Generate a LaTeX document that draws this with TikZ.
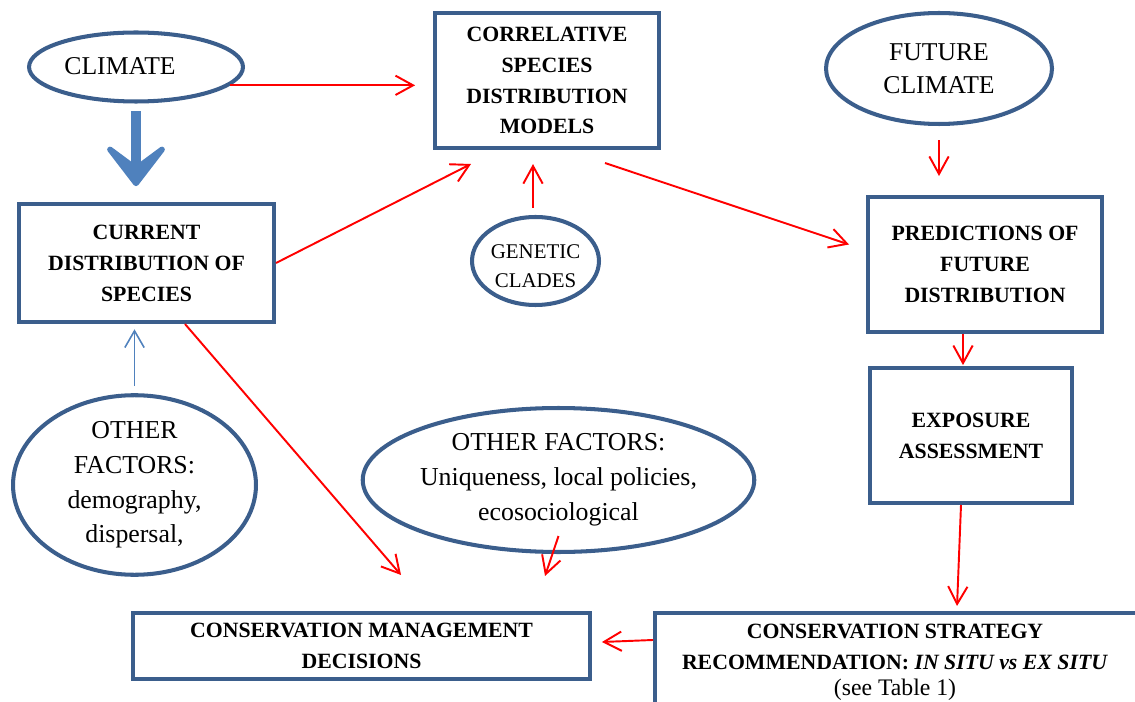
\documentclass[tikz,border=0pt]{standalone}
\usepackage{fontspec}
\setmainfont{Liberation Serif}
\usetikzlibrary{shapes.geometric, arrows.meta, positioning, calc}

\definecolor{boxblue}{HTML}{3B5E8C}
\definecolor{arrowblue}{HTML}{4F81BD}
\definecolor{linkred}{HTML}{FF0000}

\newcommand{\boxfont}{\fontsize{12.4}{17.6}\selectfont\bfseries}
\newcommand{\ovalfont}{\fontsize{14.7}{19.8}\selectfont}

\begin{document}
\begin{tikzpicture}[x=0.02cm, y=-0.02cm,
  box/.style={rectangle, draw=boxblue, line width=2.3pt, fill=white, align=center, inner sep=0pt, font=\boxfont},
  oval/.style={ellipse, draw=boxblue, line width=2.3pt, align=center, inner sep=0pt, font=\ovalfont},
  redarrow/.style={draw=linkred, line width=1.1pt, -{Straight Barb[length=10pt, width=11pt]}},
  bluearrow/.style={draw=arrowblue, line width=0.9pt, -{Straight Barb[length=9.5pt, width=11pt]}},
  bigarrow/.style={draw=arrowblue, line width=5.7pt, -{Stealth[length=30pt, width=46pt, inset=17pt, round]}}]

    \useasboundingbox (0,0) rectangle (1135,702);
    \clip (0,0) rectangle (1135,702);

    %creates the ovals
    \node (clim) [oval, minimum width=4.28cm, minimum height=1.38cm] at (136,67) {};%draws climate oval
    \node (climtext) [font=\fontsize{14.6}{18.7}\selectfont] at ($(clim.center)+(-16,-1)$) {CLIMATE};%labels climate oval
    \node (fut) [oval, font=\fontsize{14.6}{18.7}\selectfont, minimum width=4.52cm, minimum height=2.22cm] at (939,68.5) {FUTURE\\CLIMATE};%draws future climate
    \node (gen) [oval, font=\fontsize{11.9}{16.4}\selectfont, minimum width=2.54cm, minimum height=1.76cm, text depth=0pt] at (535.5,261) {\rule{0pt}{14pt}GENETIC\\CLADES};%draws genetic clades
    \node (oth1) [oval, minimum width=4.86cm, minimum height=3.32cm] at (134.5,485) {OTHER\\FACTORS:\\demography,\\dispersal,};%draws left other factors
    \node (oth2) [oval, minimum width=7.74cm, minimum height=2.88cm] at (558.5,480) {OTHER FACTORS:\\Uniqueness, local policies,\\ecosociological};%draws middle other factors

    %creates the boxes
    \node (cur) [box, minimum width=5.1cm, minimum height=2.36cm] at (146.5,263) {CURRENT\\DISTRIBUTION OF\\SPECIES};%draws current distribution
    \node (corr) [box, minimum width=4.48cm, minimum height=2.7cm] at (547,80.5) {CORRELATIVE\\SPECIES\\DISTRIBUTION\\MODELS};%draws models
    \node (pred) [box, minimum width=4.68cm, minimum height=2.7cm] at (985,264.5) {PREDICTIONS OF\\FUTURE\\DISTRIBUTION};%draws predictions
    \node (expo) [box, minimum width=4.04cm, minimum height=2.7cm] at (971,435.5) {EXPOSURE\\ASSESSMENT};%draws exposure
    \node (mgmt) [box, minimum width=9.14cm, minimum height=1.32cm] at (361.5,646) {CONSERVATION MANAGEMENT\\DECISIONS};%draws decisions
    \node (strat) [box, minimum width=9.64cm, minimum height=2.16cm] at (896,667) {};%draws strategy box
    \node (strattext) [font=\boxfont, align=center, anchor=north, inner sep=0pt] at (895,624) {CONSERVATION STRATEGY\\RECOMMENDATION: \textit{IN SITU vs EX SITU}\\[-3pt]{\fontsize{13.5}{15}\selectfont\mdseries (see Table 1)}};%labels strategy box

    %draws blue arrows
    \draw [bigarrow, shorten <=4.5pt, shorten >=9pt] (clim.south) -- (clim.south |- cur.north);%climate to current
    \draw [bluearrow, shorten <=4pt, shorten >=3pt] (oth1.north) -- (oth1.north |- cur.south);%other factors to current

    %draws red arrows
    \draw [redarrow, shorten >=10.2pt] (clim.-11) -- (clim.-11 -| corr.west);%climate to models
    \draw [redarrow] (cur.east) -- ($(corr.south west)+(38,14)$);%current to models
    \coordinate (g2c) at ($(gen.north)+(-2.5,0)$);
    \draw [redarrow, shorten <=4pt, shorten >=8pt] (g2c) -- (g2c |- corr.south);%clades to models
    \draw [redarrow] ($(corr.south)+(58,13)$) -- ($(pred.west)+(-17,-20)$);%models to predictions
    \draw [redarrow, shorten <=8pt, shorten >=10.8pt] (fut.south) -- (fut.south |- pred.north);%future climate to predictions
    \coordinate (p2e) at ($(pred.south)+(-22,0)$);
    \draw [redarrow, shorten >=0.5pt] (p2e) -- (p2e |- expo.north);%predictions to exposure
    \draw [redarrow] ($(expo.south)+(-10,0)$) -- ($(strat.north west)+(304,-5)$);%exposure to strategy
    \draw [redarrow] ($(strat.north west)+(0,29)$) -- ($(mgmt.east)+(10,-4)$);%strategy to decisions
    \draw [redarrow] ($(cur.south)+(38.5,0)$) -- ($(mgmt.north west)+(270,-36)$);%current to decisions
    \draw [redarrow] ($(oth2.center)+(0,56)$) -- ($(mgmt.north west)+(414,-35)$);%other factors to decisions
  \end{tikzpicture}
\end{document}
